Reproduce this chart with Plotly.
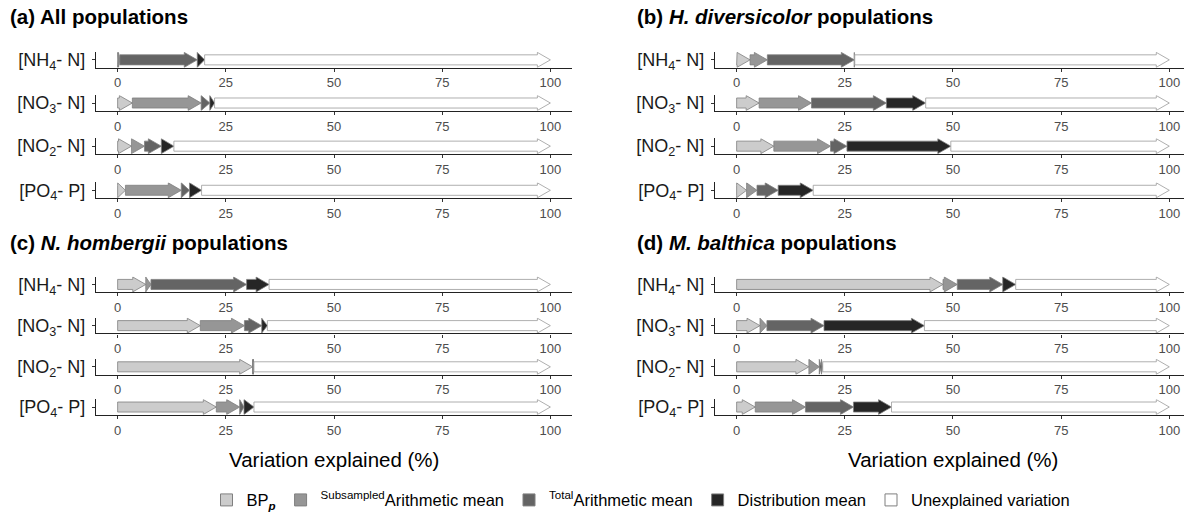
import plotly.graph_objects as go

W, H = 1184, 518

# ---------------- data ----------------
row_labels = ["[NH<sub>4</sub>- N]", "[NO<sub>3</sub>- N]", "[NO<sub>2</sub>- N]", "[PO<sub>4</sub>- P]"]
component_names = ["BP<sub><b><i>p</i></b></sub>", "<sup>Subsampled</sup>Arithmetic mean",
                   "<sup>Total</sup>Arithmetic mean", "Distribution mean", "Unexplained variation"]
component_colors = ["#CCCCCC", "#969696", "#646464", "#262626", "#FFFFFF"]
panel_titles = ["<b>(a) All populations</b>",
                "<b>(b) <i>H. diversicolor</i> populations</b>",
                "<b>(c) <i>N. hombergii</i> populations</b>",
                "<b>(d) <i>M. balthica</i> populations</b>"]
x_ticks = [0, 25, 50, 75, 100]
axis_title = "Variation explained (%)"

# variation explained (%) by each component, rows: NH4, NO3, NO2, PO4
all_bp = [0.2, 3.4, 3.2, 1.8]
all_sub = [0.3, 15.9, 3.0, 12.9]
all_tot = [17.9, 2.0, 3.9, 1.9]
all_dist = [1.7, 1.1, 2.9, 2.8]

hd_bp = [3.1, 5.2, 8.6, 2.3]
hd_sub = [4.0, 12.1, 13.1, 2.4]
hd_tot = [20.1, 17.3, 3.8, 4.9]
hd_dist = [0.1, 9.1, 24.0, 8.1]

nh_bp = [6.5, 19.1, 31.2, 22.8]
nh_sub = [1.2, 10.2, 0.1, 5.4]
nh_tot = [22.1, 4.0, 0.1, 1.0]
nh_dist = [5.2, 1.3, 0.1, 2.3]

mb_bp = [47.7, 5.4, 16.7, 4.3]
mb_sub = [3.3, 1.6, 2.4, 11.6]
mb_tot = [10.5, 13.2, 0.5, 11.1]
mb_dist = [3.0, 23.2, 0.3, 8.8]

panels = [
    (all_bp, all_sub, all_tot, all_dist),
    (hd_bp, hd_sub, hd_tot, hd_dist),
    (nh_bp, nh_sub, nh_tot, nh_dist),
    (mb_bp, mb_sub, mb_tot, mb_dist),
]

# ---------------- layout geometry (pixels) ----------------
FONT = "Liberation Sans, Arial, Helvetica, sans-serif"
top_centers = [59, 103, 147, 192]
bot_centers = [288, 330, 372, 413]
half_row = 8
left_dom = (96, 572)
right_dom = (715, 1184)
left_range = [-5, 105]
right_range = [-5, 103.4]

HEAD_W = 3.0     # arrowhead width in % units
BODY_H = 0.64    # half body height (y units, row spans -1..1)
HEAD_H = 0.95    # half head height


def arrow(x0, x1):
    hw = min(HEAD_W, x1 - x0)
    neck = x1 - hw
    xs = [x0, neck, neck, x1, neck, neck, x0, x0]
    ys = [-BODY_H, -BODY_H, -HEAD_H, 0, HEAD_H, BODY_H, BODY_H, -BODY_H]
    return xs, ys


fig = go.Figure()
layout = dict()

ax = 0
for p, comps in enumerate(panels):
    is_left = p in (0, 2)
    centers = top_centers if p < 2 else bot_centers
    dom = left_dom if is_left else right_dom
    rng = left_range if is_left else right_range
    for r in range(4):
        ax += 1
        xname = "xaxis" if ax == 1 else f"xaxis{ax}"
        yname = "yaxis" if ax == 1 else f"yaxis{ax}"
        xref = "x" if ax == 1 else f"x{ax}"
        yref = "y" if ax == 1 else f"y{ax}"
        c = centers[r]
        vals = [comps[k][r] for k in range(4)]
        vals.append(100 - sum(vals))
        start = 0.0
        for k, v in enumerate(vals):
            end = start + v
            xs, ys = arrow(start, end)
            fig.add_trace(go.Scatter(
                x=xs, y=ys, mode="lines", fill="toself",
                fillcolor=component_colors[k],
                line=dict(color="#7f7f7f" if k < 4 else "#9a9a9a", width=0.8),
                xaxis=xref, yaxis=yref, showlegend=False, hoverinfo="skip"))
            start = end
        layout[xname] = dict(
            domain=[dom[0] / W, dom[1] / W], range=rng, anchor=yref,
            tickvals=x_ticks, ticktext=[str(t) for t in x_ticks],
            showline=True, linecolor="#222222", linewidth=1.2,
            ticks="outside", ticklen=3, tickcolor="#333333", tickwidth=1,
            tickfont=dict(family=FONT, size=13, color="#4D4D4D"),
            showgrid=False, zeroline=False, fixedrange=True)
        layout[yname] = dict(
            domain=[1 - (c + half_row) / H, 1 - (c - half_row) / H],
            range=[-1, 1], anchor=xref,
            tickvals=[0], ticktext=[row_labels[r]],
            showline=True, linecolor="#222222", linewidth=1.2,
            ticks="outside", ticklen=3, tickcolor="#333333", tickwidth=1,
            ticklabelstandoff=3,
            tickfont=dict(family=FONT, size=18, color="#1A1A1A"),
            showgrid=False, zeroline=False, fixedrange=True)

# legend-only traces
for k in range(5):
    fig.add_trace(go.Scatter(
        x=[None], y=[None], mode="markers", name=component_names[k],
        marker=dict(symbol="square", size=12, color=component_colors[k],
                    line=dict(color="#7f7f7f", width=1)),
        showlegend=True))

annotations = []
title_pos = [(8, 15), (635, 15), (8, 245), (635, 245)]
for p, (tx, ty) in enumerate(title_pos):
    annotations.append(dict(
        text=panel_titles[p], x=tx / W, y=1 - ty / H, xref="paper", yref="paper",
        xanchor="left", yanchor="middle", showarrow=False,
        font=dict(family=FONT, size=20.5, color="#000000")))

for axref in ("x12", "x16"):
    annotations.append(dict(
        text=axis_title, x=50, y=1 - 467 / H, xref=axref, yref="paper",
        xanchor="center", yanchor="middle", showarrow=False,
        font=dict(family=FONT, size=20.5, color="#000000")))

fig.update_layout(
    width=W, height=H, margin=dict(l=0, r=0, t=0, b=0),
    paper_bgcolor="white", plot_bgcolor="white",
    annotations=annotations,
    legend=dict(orientation="h", x=641 / W, xanchor="center",
                y=1 - 508 / H, yanchor="middle",
                font=dict(family=FONT, size=16.5, color="#000000"),
                bgcolor="rgba(0,0,0,0)", itemwidth=30, tracegroupgap=0),
    showlegend=True,
    **layout)

fig.write_html("out.html")
